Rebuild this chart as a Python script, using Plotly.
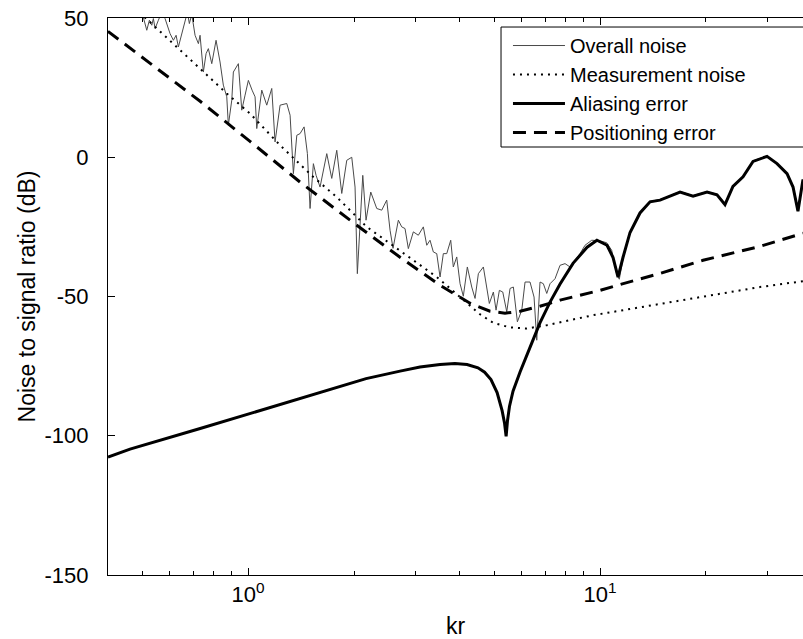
import plotly.graph_objects as go

# ---------------- data ----------------
overall_kr = [0.4934, 0.5042, 0.5155, 0.5244, 0.5326, 0.5383, 0.5443, 0.5562, 0.5686, 0.5810,
              0.6003, 0.6135, 0.6245, 0.6339, 0.6481, 0.6622, 0.6724, 0.6811, 0.6920, 0.7070,
              0.7226, 0.7305, 0.7464, 0.7598, 0.7713, 0.7887, 0.8111, 0.8325, 0.8507, 0.8700,
              0.8790, 0.8989, 0.9083, 0.9385, 0.9596, 0.9806, 1.002, 1.0266, 1.0469, 1.0585,
              1.0937, 1.1301, 1.1677, 1.1932, 1.2330, 1.2882, 1.3164, 1.3452, 1.3756, 1.4054,
              1.4427, 1.4743, 1.5003, 1.5332, 1.5606, 1.6015, 1.6735, 1.7291, 1.7865, 1.8459,
              1.9073, 1.9707, 2.0137, 2.0441, 2.0807, 2.1179, 2.1638, 2.2315, 2.3206, 2.3978,
              2.4774, 2.5317, 2.5818, 2.6730, 2.7329, 2.7925, 2.8536, 2.9484, 3.0465, 3.1477,
              3.2188, 3.2885, 3.3604, 3.4363, 3.5116, 3.5876, 3.6686, 3.7653, 3.8300, 3.9165,
              4.0023, 4.0889, 4.1976, 4.3203, 4.4149, 4.5115, 4.6615, 4.7656, 4.8475, 4.9771,
              5.0654, 5.1763, 5.2931, 5.4325, 5.5514, 5.6728, 5.8235, 5.9935, 6.1234, 6.3262,
              6.4946, 6.6109, 6.7540, 6.9019, 7.0577, 7.2111, 7.4509, 7.6985, 7.9543, 8.2188,
              8.4918, 8.7741, 9.0657, 9.4713, 10.0, 10.447, 10.794, 11.153, 11.344, 11.647,
              12.17, 12.99, 13.87, 14.81, 15.81, 16.88, 18.38, 20.14, 21.50, 22.65,
              23.86, 25.49, 27.21, 29.82, 31.83, 33.99, 35.35, 36.51, 37.73]
overall_db = [54.6, 50.4, 45.6, 49.2, 47.4, 49.8, 46.2, 49.2, 52.1, 49.8,
              44.4, 42.0, 43.8, 39.6, 44.4, 49.2, 52.1, 48.0, 51.3, 43.8,
              40.8, 43.8, 30.6, 37.2, 39.0, 33.6, 42.0, 34.2, 25.9, 21.7,
              11.5, 20.5, 30.6, 33.6, 16.9, 22.3, 27.6, 24.1, 21.7, 10.3,
              24.1, 18.7, 24.7, 5.5, 18.7, 19.3, 15.1, -5.9, 7.9, 8.5,
              10.9, 1.3, -18.4, -2.3, -6.5, -10.7, 1.3, -7.6, 2.5, -13.0,
              -1.1, 0.0, -10.7, -41.8, -21.4, -6.5, -22.6, -12.5, -18.4, -19.0,
              -15.4, -26.2, -32.7, -22.6, -25.0, -25.6, -32.8, -26.8, -28.0, -25.0,
              -31.6, -29.8, -34.0, -34.6, -43.0, -34.6, -34.6, -29.8, -39.4, -35.8,
              -45.4, -49.9, -39.4, -46.6, -50.7, -41.8, -39.4, -47.8, -52.5, -48.4,
              -54.9, -47.8, -48.4, -55.5, -47.1, -46.6, -59.1, -54.9, -44.8, -44.8,
              -50.2, -65.7, -44.8, -45.4, -48.9, -45.4, -43.6, -38.8, -38.2, -39.4,
              -37.0, -34.6, -31.6, -29.8, -30.0, -30.7, -33.4, -42.0, -43.8, -35.9,
              -26.7, -19.8, -15.8, -15.2, -13.8, -12.3, -13.8, -12.3, -13.3, -16.5,
              -10.3, -6.8, -1.3, 0.5, -2.1, -5.7, -10.2, -18.5, -7.8]

meas_kr = [0.400, 0.527, 0.627, 0.731, 0.870, 1.013, 1.233, 1.533, 1.786, 2.174,
           2.532, 2.949, 3.437, 4.003, 4.561, 4.977, 5.55, 6.19, 7.06, 8.22,
           9.57, 12.43, 18.41, 28.48, 37.73]
meas_db = [62.0, 48.5, 39.6, 31.8, 22.9, 15.7, 4.3, -7.1, -14.3, -25.0,
           -31.0, -37.0, -43.0, -50.2, -56.4, -59.5, -61.1, -61.5, -60.3, -58.5,
           -56.7, -54.3, -50.7, -46.6, -44.5]

alias_kr = [0.400, 0.462, 0.731, 1.130, 1.748, 2.164, 2.703, 3.08, 3.51, 3.87,
            4.19, 4.50, 4.70, 4.90, 5.10, 5.27, 5.355, 5.41, 5.46, 5.53,
            5.66, 5.93, 6.33, 6.75, 7.21, 7.70, 8.38, 9.19, 9.80, 10.47,
            10.89, 11.25, 11.62, 12.17, 12.99, 13.87, 14.81, 15.81, 16.88, 18.38,
            20.14, 21.50, 22.65, 23.86, 25.49, 27.21, 29.82, 31.83, 33.99, 35.35,
            36.51, 37.73]
alias_db = [-107.7, -104.8, -97.4, -90.2, -83.1, -79.5, -76.8, -75.3, -74.4, -74.1,
            -74.4, -75.6, -77.2, -79.8, -84.5, -91.0, -95.5, -100.2, -94.5, -89.5,
            -84.0, -77.0, -68.2, -59.5, -52.0, -45.5, -38.1, -32.3, -29.8, -31.6,
            -36.0, -43.0, -36.0, -27.0, -20.0, -16.0, -15.4, -14.0, -12.5, -14.0,
            -12.5, -13.5, -17.0, -10.5, -7.0, -1.5, 0.3, -2.3, -5.9, -10.7,
            -19.4, -8.0]

pos_kr = [0.400, 0.527, 0.731, 1.013, 1.405, 1.949, 2.703, 3.511, 4.272, 4.87,
          5.37, 5.93, 6.75, 7.70, 10.0, 11.18, 14.81, 19.62, 23.86, 28.48,
          32.47, 37.73]
pos_db = [45.2, 33.8, 20.1, 5.7, -8.9, -22.6, -35.9, -46.0, -52.4, -55.3,
          -56.0, -55.3, -53.5, -51.3, -47.8, -46.0, -41.7, -37.0, -34.5, -32.0,
          -29.8, -27.3]

y_ticks = [-150, -100, -50, 0, 50]
y_ticktext = ["-150", "-100", "-50", "0", "50"]
x_ticks = [1, 10]
x_ticktext = ["10<sup>0</sup>", "10<sup>1</sup>"]
x_minor = [0.5, 0.6, 0.7, 0.8, 0.9, 2, 3, 4, 5, 6, 7, 8, 9, 20, 30]

FONT = "Liberation Sans, Arial, Helvetica, sans-serif"

fig = go.Figure()
fig.add_trace(go.Scatter(x=overall_kr, y=overall_db, mode="lines", name="Overall noise",
                         line=dict(color="#4a4a4a", width=1)))
fig.add_trace(go.Scatter(x=meas_kr, y=meas_db, mode="lines", name="Measurement noise",
                         line=dict(color="black", width=2, dash="2px,5px")))
fig.add_trace(go.Scatter(x=alias_kr, y=alias_db, mode="lines", name="Aliasing error",
                         line=dict(color="black", width=3)))
fig.add_trace(go.Scatter(x=pos_kr, y=pos_db, mode="lines", name="Positioning error",
                         line=dict(color="black", width=3, dash="13px,8px")))

# legend frame (extends past the right edge like the reference)
fig.add_shape(type="rect", xref="paper", yref="paper",
              x0=0.5655, x1=1.03, y0=0.7684, y1=0.9838,
              line=dict(color="black", width=1), fillcolor="white", layer="below")

fig.update_layout(
    width=803, height=639,
    margin=dict(l=108, r=0, t=18, b=64),
    paper_bgcolor="white", plot_bgcolor="white",
    font=dict(family=FONT, size=22, color="black"),
    showlegend=True,
    legend=dict(x=0.5755, y=0.9856, xanchor="left", yanchor="top",
                bgcolor="rgba(0,0,0,0)", borderwidth=0,
                font=dict(family=FONT, size=20, color="black"),
                itemwidth=52, tracegroupgap=0),
    xaxis=dict(type="log", range=[-0.39794, 1.5767],
               tickvals=x_ticks, ticktext=x_ticktext,
               ticks="inside", ticklen=7, tickwidth=1, tickcolor="black",
               minor=dict(tickvals=x_minor, ticks="inside", ticklen=4, tickcolor="black", tickwidth=1),
               showline=True, linecolor="black", linewidth=1, mirror="ticks",
               showgrid=False, zeroline=False,
               tickfont=dict(family=FONT, size=22),
               title=dict(text="kr", font=dict(family=FONT, size=23), standoff=14)),
    yaxis=dict(range=[-150, 50], tickvals=y_ticks, ticktext=y_ticktext,
               ticks="inside", ticklen=7, tickwidth=1, tickcolor="black",
               showline=True, linecolor="black", linewidth=1, mirror=False,
               showgrid=False, zeroline=False,
               tickfont=dict(family=FONT, size=22),
               ticklabelstandoff=14,
               title=dict(text="Noise to signal ratio (dB)", font=dict(family=FONT, size=23), standoff=2)),
)

fig.write_html("out.html")
